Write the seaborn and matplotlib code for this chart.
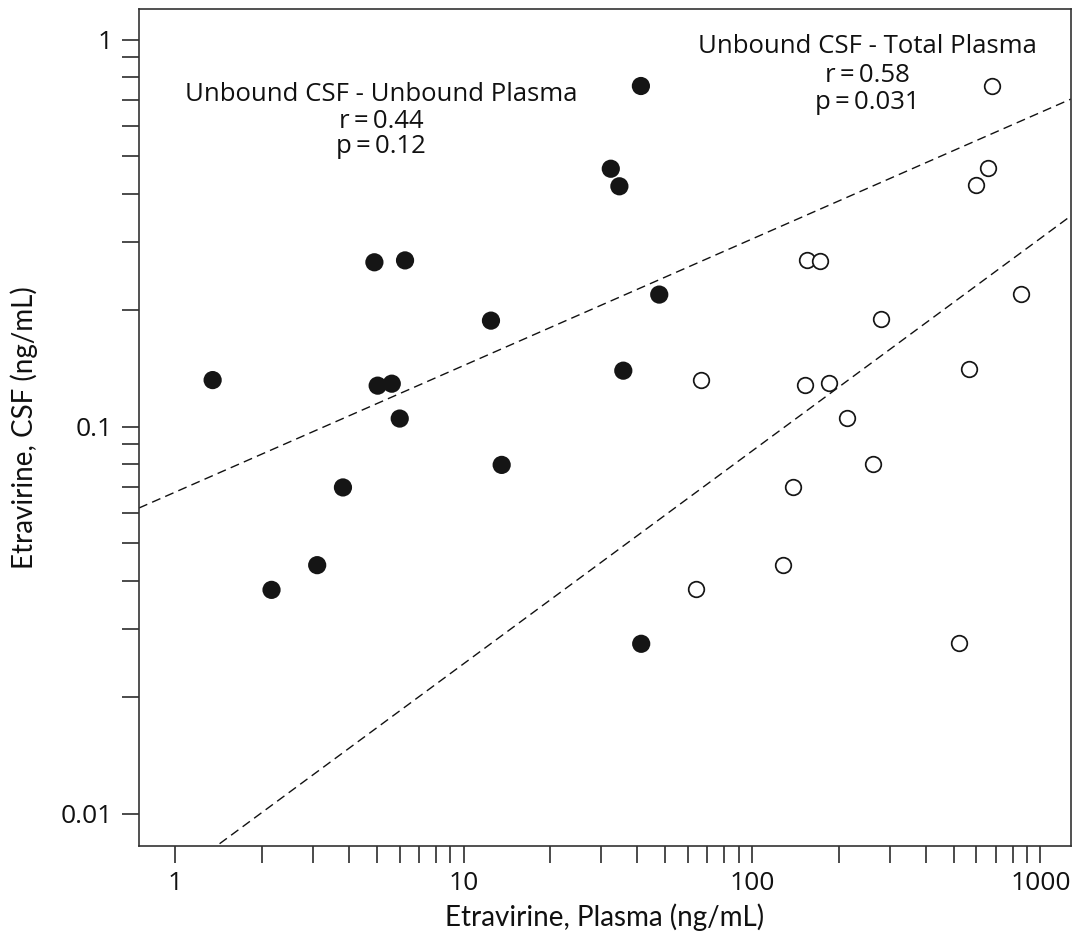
import numpy as np
import pandas as pd
import matplotlib
matplotlib.use("Agg")
import matplotlib.pyplot as plt
import seaborn as sns
from matplotlib.ticker import FixedLocator, NullFormatter

# ---------------- data ----------------
# Unbound CSF vs unbound plasma (filled circles)
unbound_plasma = [1.35, 2.16, 3.11, 3.82, 4.91, 5.04, 5.64, 6.01, 6.27, 12.45,
                  13.56, 32.4, 34.7, 35.8, 41.2, 41.3, 47.7]
unbound_csf = [0.132, 0.0379, 0.0439, 0.0697, 0.266, 0.1277, 0.1292, 0.105, 0.269,
               0.188, 0.0797, 0.464, 0.418, 0.1396, 0.759, 0.0275, 0.2195]
# Unbound CSF vs total plasma (open circles)
total_plasma = [63.8, 66.4, 128.4, 139.1, 152.7, 154.8, 172.5, 184.9, 213.9, 262.0,
                280.0, 520.6, 565.2, 596.4, 656.2, 677.3, 855.8]
total_csf = [0.0382, 0.1323, 0.0439, 0.0697, 0.1284, 0.2704, 0.2677, 0.1298, 0.1053,
             0.0802, 0.190, 0.0277, 0.1406, 0.420, 0.465, 0.757, 0.2208]
# log10(CSF) = intercept + slope * log10(plasma)
unbound_fit = {"intercept": -1.169, "slope": 0.327}
total_fit = {"intercept": -2.162, "slope": 0.5496}

x_ticks = [1, 10, 100, 1000]
x_ticklabels = ["1", "10", "100", "1000"]
y_ticks = [0.01, 0.1, 1]
y_ticklabels = ["0.01", "0.1", "1"]
x_label = "Etravirine, Plasma (ng/mL)"
y_label = "Etravirine, CSF (ng/mL)"
ann_unbound = ["Unbound CSF - Unbound Plasma", "r\u2009=\u20090.44", "p\u2009=\u20090.12"]
ann_total = ["Unbound CSF - Total Plasma", "r\u2009=\u20090.58", "p\u2009=\u20090.031"]

# ---------------- style ----------------
sns.set_theme(style="white")
plt.rcParams["font.family"] = ["Open Sans", "DejaVu Sans"]

fig = plt.figure(figsize=(10.74, 9.39), dpi=100)
ax = fig.add_axes([139 / 1074, 1 - 846 / 939, (1071 - 139) / 1074, (846 - 9) / 939])

xmin, xmax = 0.75, 1276
ymin, ymax = 0.00826, 1.2

# fit lines
xs = np.logspace(np.log10(xmin), np.log10(xmax), 200)
lines = pd.concat([
    pd.DataFrame({"x": xs, "y": 10 ** (unbound_fit["intercept"] + unbound_fit["slope"] * np.log10(xs)), "g": "unbound"}),
    pd.DataFrame({"x": xs, "y": 10 ** (total_fit["intercept"] + total_fit["slope"] * np.log10(xs)), "g": "total"}),
])
for g, d in lines.groupby("g"):
    sns.lineplot(data=d, x="x", y="y", ax=ax, color="#111111", lw=1.0,
                 dashes=False, linestyle=(0, (6.5, 3.8)), zorder=2)

df_u = pd.DataFrame({"plasma": unbound_plasma, "csf": unbound_csf})
df_t = pd.DataFrame({"plasma": total_plasma, "csf": total_csf})
sns.scatterplot(data=df_u, x="plasma", y="csf", ax=ax, s=172, color="#151515",
                edgecolor="none", linewidth=0, zorder=3)
sns.scatterplot(data=df_t, x="plasma", y="csf", ax=ax, s=126, facecolor="white",
                edgecolor="#151515", linewidth=1.25, zorder=3)

ax.set_xscale("log")
ax.set_yscale("log")
ax.set_xlim(xmin, xmax)
ax.set_ylim(ymin, ymax)

ax.xaxis.set_major_locator(FixedLocator(x_ticks))
ax.set_xticklabels(x_ticklabels)
ax.yaxis.set_major_locator(FixedLocator(y_ticks))
ax.set_yticklabels(y_ticklabels)
x_minor = [m * d for d in x_ticks[:-1] for m in range(2, 10)]
y_minor = [m * d for d in y_ticks[:-1] for m in range(2, 10)]
ax.xaxis.set_minor_locator(FixedLocator(x_minor))
ax.yaxis.set_minor_locator(FixedLocator(y_minor))
ax.xaxis.set_minor_formatter(NullFormatter())
ax.yaxis.set_minor_formatter(NullFormatter())

ax.tick_params(axis="both", which="both", direction="out", length=12, width=1.1,
               color="#1a1a1a", bottom=True, left=True, top=False, right=False)
ax.tick_params(axis="x", which="major", pad=6, labelsize=19, labelcolor="#111111")
ax.tick_params(axis="y", which="major", pad=7, labelsize=19, labelcolor="#111111")

for sp in ax.spines.values():
    sp.set_visible(True)
    sp.set_color("#333333")
    sp.set_linewidth(1.2)

cond = ["Lato", "DejaVu Sans"]
ax.set_xlabel(x_label, fontsize=20, family=cond, color="#111111", labelpad=5)
ax.set_ylabel(y_label, fontsize=20, family=cond, color="#111111", labelpad=16)

# annotations
fs = 18.5
for txt, yy in zip(ann_unbound, [0.8984, 0.8660, 0.8355]):
    ax.text(0.2597, yy, txt, transform=ax.transAxes, ha="center", va="center",
            fontsize=fs, color="#111111")
for txt, yy in zip(ann_total, [0.9546, 0.9200, 0.8880]):
    ax.text(0.7811, yy, txt, transform=ax.transAxes, ha="center", va="center",
            fontsize=fs, color="#111111")

ax.set_facecolor("white")
fig.patch.set_facecolor("white")
fig.savefig("out.png", dpi=100, facecolor="white")
